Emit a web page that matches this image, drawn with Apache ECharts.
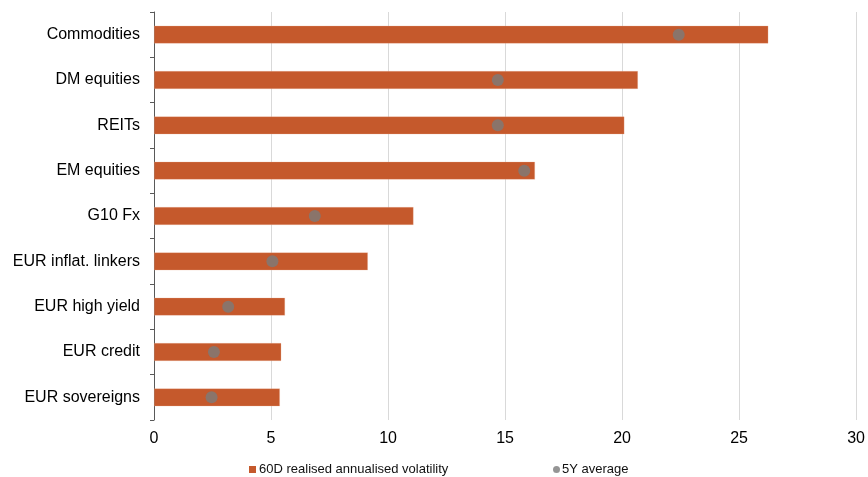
<!DOCTYPE html>
<html>
<head>
<meta charset="utf-8">
<script src="https://cdn.jsdelivr.net/npm/echarts@6/dist/echarts.min.js"></script>
<style>
  html, body { margin: 0; padding: 0; background: #ffffff; }
  #chart { width: 868px; height: 477px; }
</style>
</head>
<body>
<div id="chart"></div>
<script>
// Asset classes, top to bottom
const categories = [
  'Commodities', 'DM equities', 'REITs', 'EM equities', 'G10 Fx',
  'EUR inflat. linkers', 'EUR high yield', 'EUR credit', 'EUR sovereigns'
];
// 60-day realised annualised volatility (%)
const realisedVol = [26.25, 20.68, 20.1, 16.28, 11.09, 9.14, 5.6, 5.44, 5.38];
// 5-year average volatility (%)
const fiveYearAvg = [22.42, 14.69, 14.69, 15.82, 6.87, 5.06, 3.17, 2.56, 2.46];
// Value axis ticks
const xTicks = [0, 5, 10, 15, 20, 25, 30];

const barName = '60D realised annualised volatility';
const dotName = '5Y average';
const FONT = '"Liberation Sans", Arial, sans-serif';

const chart = echarts.init(document.getElementById('chart'), null, { renderer: 'canvas' });

chart.setOption({
  animation: false,
  backgroundColor: '#ffffff',
  textStyle: { fontFamily: FONT },
  grid: { left: 154, right: 5, top: 12, bottom: 57, containLabel: false },
  legend: [
    {
      data: [{ name: barName, icon: 'rect', itemStyle: { borderWidth: 0 } }],
      left: 244, top: 458,
      itemWidth: 7, itemHeight: 7,
      textStyle: { fontFamily: FONT, fontSize: 13, color: '#111111', padding: [0, 0, 0, -2] },
      selectedMode: false
    },
    {
      data: [{ name: dotName, icon: 'circle' }],
      left: 548, top: 458,
      itemWidth: 7, itemHeight: 7,
      textStyle: { fontFamily: FONT, fontSize: 13, color: '#111111', padding: [0, 0, 0, -3] },
      selectedMode: false
    }
  ],
  xAxis: {
    type: 'value',
    min: xTicks[0],
    max: xTicks[xTicks.length - 1],
    interval: xTicks[1] - xTicks[0],
    axisLine: { show: false },
    axisTick: { show: false },
    axisLabel: { fontFamily: FONT, fontSize: 16, color: '#000000', margin: 11 },
    splitLine: { show: true, lineStyle: { color: '#d9d9d9', width: 1 } }
  },
  yAxis: {
    type: 'category',
    data: categories,
    inverse: true,
    axisLine: { show: true, lineStyle: { color: '#595959', width: 1 } },
    axisTick: { show: true, length: 4, lineStyle: { color: '#595959' } },
    axisLabel: { fontFamily: FONT, fontSize: 16, color: '#000000', margin: 14 },
    splitLine: { show: false }
  },
  series: [
    {
      name: barName,
      type: 'bar',
      data: realisedVol,
      barWidth: 18,
      itemStyle: { color: '#c5592c', borderColor: 'rgba(236,180,155,0.45)', borderWidth: 0.6 },
      z: 2
    },
    {
      name: dotName,
      type: 'scatter',
      data: fiveYearAvg,
      symbol: 'circle',
      symbolSize: 12,
      itemStyle: { color: '#7a7a7a' },
      z: 3
    }
  ]
});
</script>
</body>
</html>
